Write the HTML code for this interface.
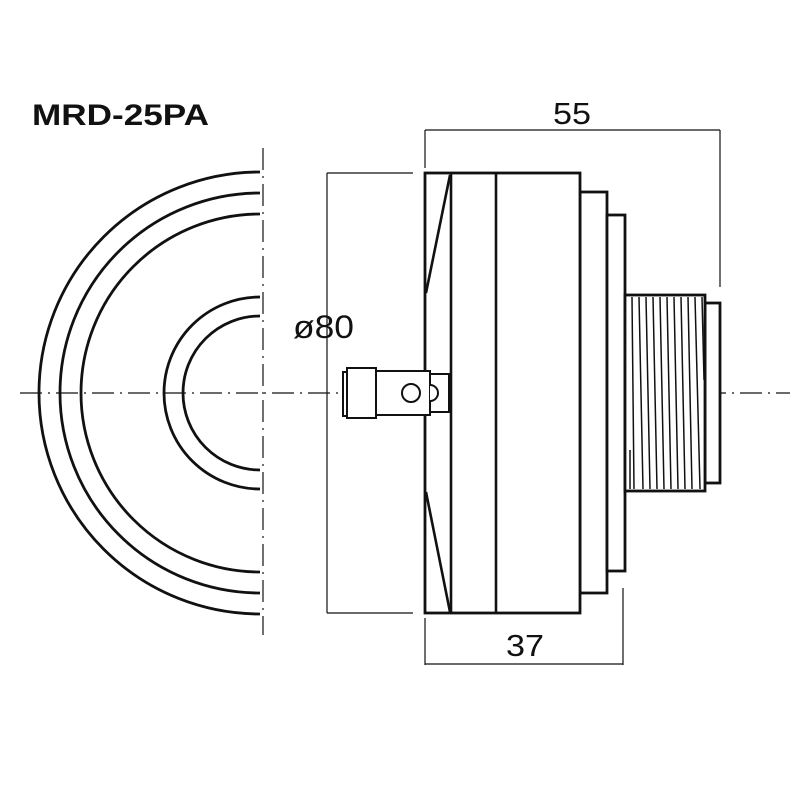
<!DOCTYPE html>
<html><head><meta charset="utf-8"><style>html,body{margin:0;padding:0;background:#fff}svg{display:block}</style></head>
<body>
<svg width="800" height="800" viewBox="0 0 800 800" xmlns="http://www.w3.org/2000/svg">
<g fill="none" stroke="#111">
<line x1="20" y1="393" x2="790" y2="393" stroke-width="1.2" stroke-dasharray="22,6,2,6"/>
<line x1="263" y1="148" x2="263" y2="635" stroke-width="1.2" stroke-dasharray="22,6,2,6"/>
<g stroke-width="2.8">
<path d="M260 172 A221 221 0 0 0 260 614"/>
<path d="M260 193 A200 200 0 0 0 260 593"/>
<path d="M260 214 A179 179 0 0 0 260 572"/>
<path d="M260 297 A96 96 0 0 0 260 489"/>
<path d="M260 316 A77 77 0 0 0 260 470"/>
</g>
<g stroke-width="1.2">
<line x1="425" y1="130" x2="720" y2="130"/>
<line x1="425" y1="130" x2="425" y2="168"/>
<line x1="720" y1="130" x2="720" y2="287"/>
<line x1="327" y1="173" x2="413" y2="173"/>
<line x1="327" y1="613" x2="413" y2="613"/>
<line x1="327" y1="173" x2="327" y2="613"/>
<line x1="425" y1="618" x2="425" y2="665"/>
<line x1="623" y1="588" x2="623" y2="665"/>
<line x1="425" y1="664" x2="623" y2="664"/>
</g>
<g stroke-width="2.8" fill="#fff">
<rect x="580" y="192" width="27" height="401"/>
<rect x="607" y="215" width="18" height="356"/>
<rect x="425" y="173" width="155" height="440"/>
<rect x="705" y="303" width="15" height="180"/>
<rect x="625" y="295" width="80" height="196"/>
</g>
<g stroke-width="2.6">
<line x1="451" y1="173" x2="451" y2="613"/>
<line x1="496" y1="173" x2="496" y2="613"/>
<line x1="426" y1="293" x2="450" y2="175"/>
<line x1="426" y1="492" x2="450" y2="612"/>
</g>
<g stroke-width="1.5">
<line x1="632" y1="297" x2="634" y2="489"/>
<line x1="639" y1="297" x2="643" y2="489"/>
<line x1="646" y1="297" x2="650" y2="489"/>
<line x1="653" y1="297" x2="657" y2="489"/>
<line x1="660" y1="297" x2="664" y2="489"/>
<line x1="667" y1="297" x2="671" y2="489"/>
<line x1="674" y1="297" x2="678" y2="489"/>
<line x1="681" y1="297" x2="685" y2="489"/>
<line x1="688" y1="297" x2="692" y2="489"/>
<line x1="695" y1="297" x2="700" y2="489"/>
<line x1="702" y1="297" x2="704" y2="380"/>
<line x1="630" y1="450" x2="630" y2="489"/>
</g>
<g stroke-width="2" fill="#fff">
<rect x="430" y="374" width="19" height="38"/>
<rect x="376" y="371" width="54" height="44"/>
<rect x="343" y="372" width="5" height="44"/>
<rect x="347" y="368" width="29" height="50"/>
<circle cx="411" cy="393" r="9"/>
<path d="M430 385 A8 8 0 0 1 430 401"/>
</g>
</g>
<g font-family="Liberation Sans, sans-serif" fill="#111">
<text x="32" y="125" font-size="30" font-weight="bold" textLength="177" lengthAdjust="spacingAndGlyphs">MRD-25PA</text>
<text x="293" y="338" font-size="32" textLength="61" lengthAdjust="spacingAndGlyphs">ø80</text>
<text x="553" y="124" font-size="31" textLength="38" lengthAdjust="spacingAndGlyphs">55</text>
<text x="506" y="656" font-size="31" textLength="38" lengthAdjust="spacingAndGlyphs">37</text>
</g>
</svg>
</body></html>
